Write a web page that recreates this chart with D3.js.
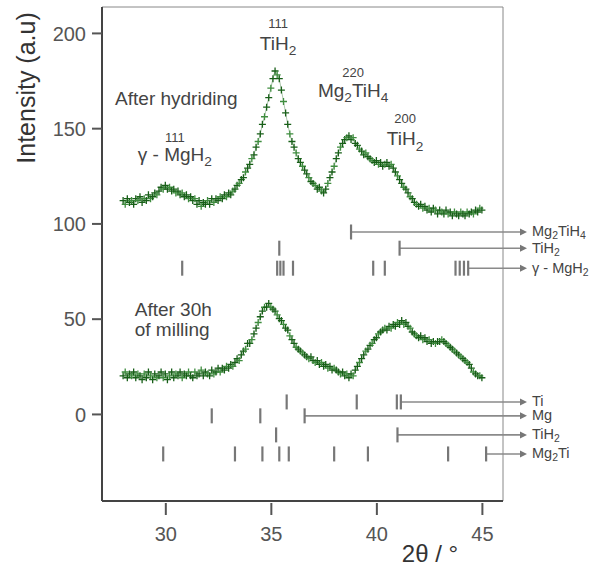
<!DOCTYPE html>
<html>
<head>
<meta charset="utf-8">
<script src="https://cdn.jsdelivr.net/npm/d3@7"></script>
<style>
body { margin: 0; background: #fff; }
svg { font-family: "Liberation Sans", Arial, sans-serif; }
</style>
</head>
<body>
<svg width="611" height="567"></svg>
<script>
// XRD scans, one intensity per 0.1 deg of 2theta starting at 28.0
var thetaStart = 28.0, thetaStep = 0.1;

var hydrided = [
    112,110,113,111,112,110,113,112,114,111,
    113,112,115,113,114,116,115,117,119,118,
    120,118,119,117,118,116,117,115,116,114,
    115,113,114,112,113,110,112,109,111,110,
    112,110,113,111,113,112,114,113,115,114,
    116,115,117,118,120,121,123,124,127,129,
    131,134,136,140,143,147,152,156,161,166,
    171,176,180,178,176,170,164,158,152,147,
    143,140,137,134,132,130,128,126,124,122,
    121,120,118,119,117,116,118,121,124,127,
    130,134,137,140,142,144,145,146,144,145,
    142,141,139,138,136,137,135,134,133,132,
    133,131,132,130,131,132,130,131,129,127,
    125,123,121,119,118,116,114,113,111,110,
    109,110,108,109,107,108,106,108,107,105,
    107,106,105,107,105,106,104,106,105,104,
    106,105,104,106,105,106,105,107,106,108,
    107
];

var milled = [
    20,22,19,21,20,22,19,21,20,18,
    21,19,22,20,18,21,19,20,22,19,
    21,18,20,22,19,21,20,22,19,21,
    20,22,20,19,22,20,21,23,20,22,
    21,20,23,21,22,24,22,24,23,25,
    24,26,25,27,29,28,31,33,34,37,
    37,39,42,45,48,51,54,56,56,58,
    56,55,54,52,50,49,47,45,44,41,
    39,37,35,34,33,32,31,30,29,30,
    28,27,28,26,27,25,26,24,25,23,
    24,23,22,21,22,20,21,19,21,20,
    23,25,27,29,31,33,34,36,37,39,
    40,42,43,44,45,44,46,45,47,46,
    48,47,49,47,48,46,45,43,42,41,
    40,41,39,40,38,39,37,38,37,38,
    38,39,38,37,36,35,34,33,32,31,
    30,29,28,27,26,24,22,21,20,20,
    19
];

var xTicks = [30, 35, 40, 45];
var yTicks = [0, 50, 100, 150, 200];

// reference peak positions (2theta) of each phase, "_n" = subscript
var phaseNames = ["Mg_2TiH_4", "TiH_2", "\u03b3 - MgH_2", "Ti", "Mg", "TiH_2", "Mg_2Ti"];
var phasePeaks = [
    [38.8],
    [35.4, 41.1],
    [30.8, 35.3, 35.45, 35.6, 36.05, 39.85, 40.4, 43.75, 43.95, 44.15, 44.35],
    [35.75, 39.07, 40.97, 41.16],
    [32.2, 34.5, 36.6],
    [35.25, 41.0],
    [29.9, 33.3, 34.6, 35.4, 35.85, 38.0, 39.6, 43.4, 45.2]
];
// intensity level of each reference row
var phaseRows = [95.5, 87, 76.5, 6.3, -1, -11, -21];

var annoTexts = ["111", "TiH_2", "220", "Mg_2TiH_4", "200", "TiH_2", "111", "\u03b3 - MgH_2",
                 "After hydriding", "After 30h", "of milling"];


var svg = d3.select("svg"),
    plotL = 102, plotR = 503, plotT = 7, plotB = 501;

var x = d3.scaleLinear().domain([27, 46]).range([plotL, plotR]);
var y = d3.scaleLinear().domain([-45.7, 213.6]).range([plotB, plotT]);

var textCol = "#444", green = "#185f18";

// frame: heavy left/bottom axes, thin top/right
svg.append("line").attr("x1", plotL).attr("x2", plotR).attr("y1", plotT).attr("y2", plotT)
    .attr("stroke", "#888").attr("stroke-width", 1);
svg.append("line").attr("x1", plotR).attr("x2", plotR).attr("y1", plotT).attr("y2", plotB)
    .attr("stroke", "#888").attr("stroke-width", 1);

var xAxis = svg.append("g")
    .attr("transform", "translate(0," + plotB + ")")
    .call(d3.axisBottom(x).tickValues(xTicks).tickSize(14).tickPadding(12).tickFormat(d3.format("d")));
var yAxis = svg.append("g")
    .attr("transform", "translate(" + plotL + ",0)")
    .call(d3.axisLeft(y).tickValues(yTicks).tickSize(10).tickPadding(6).tickFormat(d3.format("d")));

[xAxis, yAxis].forEach(function(a) {
    a.select(".domain").attr("stroke", "#444").attr("stroke-width", 2)
        .attr("d", a === xAxis ? "M" + plotL + ",0H" + plotR : "M0," + plotT + "V" + plotB);
    a.selectAll(".tick line").attr("stroke", "#555").attr("stroke-width", 2);
    a.selectAll(".tick text").attr("fill", "#555").style("font-size", "20px")
        .style("font-family", "Liberation Sans, Arial, sans-serif");
});
yAxis.selectAll(".tick text").attr("dy", "0.36em");
// tick marks below the x axis start a little off the line
xAxis.selectAll(".tick line").attr("y1", 2);

svg.append("text")
    .attr("transform", "translate(35,88) rotate(-90)")
    .attr("text-anchor", "middle")
    .attr("fill", "#333")
    .style("font-size", "25px")
    .text("Intensity (a.u)");

svg.append("text")
    .attr("x", 430).attr("y", 562)
    .attr("text-anchor", "middle")
    .attr("fill", "#333")
    .style("font-size", "24px")
    .text("2\u03b8 / \u00b0");

// writes "Mg_2TiH_4" style strings with subscripts
function formula(sel, str, size, drop) {
    var shift = 0;
    str.split(/(_\d)/).forEach(function(p) {
        if (!p) return;
        var sub = p[0] === "_";
        var target = sub ? size * (drop || 0.28) : 0;
        sel.append("tspan")
            .attr("dy", target - shift)
            .style("font-size", (sub ? size * 0.72 : size) + "px")
            .text(sub ? p.slice(1) : p);
        shift = target;
    });
}

// scans drawn as small crosses
var plus = "M-3.5,0H3.5M0,-3.5V3.5";
[hydrided, milled].forEach(function(scan) {
    var pts = scan.map(function(v, i) { return [thetaStart + i * thetaStep, v]; });
    svg.append("path")
        .datum(pts)
        .attr("fill", "none")
        .attr("stroke", green)
        .attr("stroke-opacity", 0.35)
        .attr("stroke-width", 1)
        .attr("d", d3.line().x(function(d) { return x(d[0]); }).y(function(d) { return y(d[1]); }));
    svg.append("g").selectAll("path")
        .data(pts)
        .join("path")
        .attr("transform", function(d) { return "translate(" + x(d[0]) + "," + y(d[1]) + ")"; })
        .attr("d", plus)
        .attr("stroke", function(d, i) { return i % 3 === 1 ? "#3f8d3f" : green; })
        .attr("stroke-width", 1.3);
});

// reference bars with arrow to the phase name
var arrowTip = 527;
phaseNames.forEach(function(name, k) {
    var row = svg.append("g").attr("transform", "translate(0," + y(phaseRows[k]) + ")");
    var peaks = phasePeaks[k];
    var last = x(peaks[peaks.length - 1]);
    row.append("line")
        .attr("x1", last).attr("x2", arrowTip - 6)
        .attr("stroke", "#8a8a8a").attr("stroke-width", 1.6);
    row.append("path")
        .attr("d", "M" + arrowTip + ",0L" + (arrowTip - 7) + ",-3.5L" + (arrowTip - 7) + ",3.5Z")
        .attr("fill", "#777");
    row.selectAll(".bar")
        .data(peaks)
        .join("line")
        .attr("class", "bar")
        .attr("x1", function(d) { return x(d); }).attr("x2", function(d) { return x(d); })
        .attr("y1", -7.5).attr("y2", 7.5)
        .attr("stroke", "#777").attr("stroke-width", 2.2);
    var t = row.append("text")
        .attr("x", arrowTip + 5).attr("y", 4.5)
        .attr("fill", textCol);
    formula(t, name, 14.5, 0.2);
});

// peak labels (hkl over phase) and scan captions
var annoX = [35.34, 35.34, 38.9, 38.9, 41.36, 41.36, 30.45, 30.45, 27.62, 28.55, 28.55];
var annoY = [202.6, 191, 177, 166.4, 152.8, 141, 142.8, 132.8, 162.2, 51.4, 41];
var annoSize = [13, 19, 13, 19, 13, 19, 13, 19, 19, 19, 19];
annoTexts.forEach(function(s, i) {
    var t = svg.append("text")
        .attr("x", x(annoX[i])).attr("y", y(annoY[i]))
        .attr("text-anchor", i < 8 ? "middle" : "start")
        .attr("fill", textCol);
    formula(t, s, annoSize[i]);
});
</script>
</body>
</html>
